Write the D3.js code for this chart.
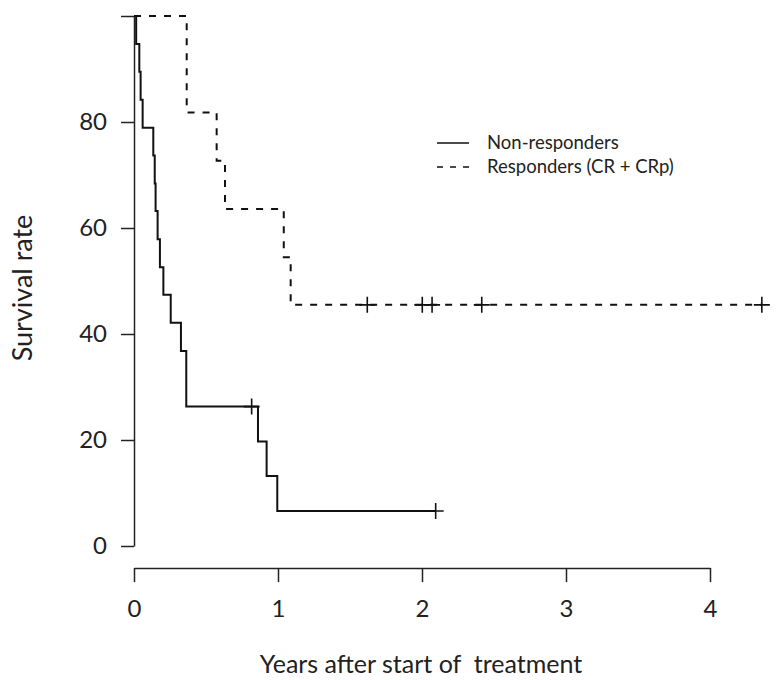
<!DOCTYPE html>
<html>
<head>
<meta charset="utf-8">
<script src="https://cdn.jsdelivr.net/npm/d3@7"></script>
<style>
  body { margin: 0; background: #fff; }
  text { font-family: Lato, "Open Sans", sans-serif; fill: #222; }
</style>
</head>
<body>
<svg width="776" height="680"></svg>
<script>
// Kaplan-Meier: non-responders (solid)
const nrTime = [0, 0.015, 0.037, 0.046, 0.060, 0.134, 0.144, 0.150, 0.164, 0.180, 0.204, 0.255, 0.326, 0.363, 0.861, 0.921, 0.995, 2.095];
const nrSurv = [100, 94.7, 89.5, 84.2, 78.9, 73.7, 68.4, 63.2, 57.9, 52.6, 47.4, 42.1, 36.8, 26.3, 19.7, 13.2, 6.6, 6.6];
const nrCensorTime = [0.817, 2.095];
const nrCensorSurv = [26.3, 6.6];

// responders CR + CRp (dashed)
const rTime = [0, 0.366, 0.574, 0.632, 1.04, 1.088, 4.36];
const rSurv = [100, 81.8, 72.7, 63.6, 54.5, 45.5, 45.5];
const rCensorTime = [1.62, 2.002, 2.07, 2.415, 4.36];
const rCensorSurv = [45.5, 45.5, 45.5, 45.5, 45.5];

const xTicks = [0, 1, 2, 3, 4];
const yTicks = [0, 20, 40, 60, 80, 100];
const yTickLabels = ['0', '20', '40', '60', '80', ''];

const legendLabels = ['Non-responders', 'Responders (CR + CRp)'];

const svg = d3.select('svg');

const x = d3.scaleLinear().domain([0, 4]).range([134, 710]);
const y = d3.scaleLinear().domain([0, 100]).range([546, 16]);

// y axis
const yAxis = d3.axisLeft(y)
    .tickValues(yTicks)
    .tickFormat((d, i) => yTickLabels[i])
    .tickSize(13)
    .tickPadding(14)
    .tickSizeOuter(0);
const gy = svg.append('g').attr('transform', 'translate(134,0)').call(yAxis);
gy.select('.domain').attr('stroke', '#222').attr('stroke-width', 1.5);
gy.selectAll('.tick line').attr('stroke', '#222').attr('stroke-width', 1.5);
gy.selectAll('.tick text').attr('font-size', 24).attr('font-family', 'Lato, sans-serif').attr('fill', '#222');

// x axis
const xAxis = d3.axisBottom(x)
    .tickValues(xTicks)
    .tickFormat(d3.format('d'))
    .tickSize(14)
    .tickPadding(18)
    .tickSizeOuter(0);
const gx = svg.append('g').attr('transform', 'translate(0,568)').call(xAxis);
gx.select('.domain').attr('stroke', '#222').attr('stroke-width', 1.5);
gx.selectAll('.tick line').attr('stroke', '#222').attr('stroke-width', 1.5);
gx.selectAll('.tick text').attr('font-size', 24).attr('font-family', 'Lato, sans-serif').attr('fill', '#222');

// axis titles
svg.append('text')
    .attr('x', 421).attr('y', 673)
    .attr('text-anchor', 'middle')
    .attr('font-size', 25)
    .style('white-space', 'pre')
    .text('Years after start of  treatment');

svg.append('text')
    .attr('transform', 'translate(32,288) rotate(-90)')
    .attr('text-anchor', 'middle')
    .attr('font-size', 27)
    .text('Survival rate');

// curves
const step = d3.line()
    .x(d => x(d[0]))
    .y(d => y(d[1]))
    .curve(d3.curveStepAfter);

svg.append('path')
    .datum(d3.zip(nrTime, nrSurv))
    .attr('d', step)
    .attr('fill', 'none')
    .attr('stroke', '#111')
    .attr('stroke-width', 2);

svg.append('path')
    .datum(d3.zip(rTime, rSurv))
    .attr('d', step)
    .attr('fill', 'none')
    .attr('stroke', '#111')
    .attr('stroke-width', 2)
    .attr('stroke-dasharray', '7,8');

// censor marks
const cross = (g, times, survs) => {
    const pts = d3.zip(times, survs);
    g.selectAll(null).data(pts).enter().append('path')
        .attr('d', d => {
            const cx = x(d[0]), cy = y(d[1]);
            return `M${cx - 8},${cy}H${cx + 8}M${cx},${cy - 8}V${cy + 8}`;
        })
        .attr('stroke', '#111')
        .attr('stroke-width', 1.6)
        .attr('fill', 'none');
};
cross(svg.append('g'), nrCensorTime, nrCensorSurv);
cross(svg.append('g'), rCensorTime, rCensorSurv);

// legend
const legend = svg.append('g').attr('transform', 'translate(437,143)');
legendLabels.forEach((lab, i) => {
    legend.append('line')
        .attr('x1', 0).attr('x2', 32)
        .attr('y1', i * 24).attr('y2', i * 24)
        .attr('stroke', '#111')
        .attr('stroke-width', 1.5)
        .attr('stroke-dasharray', i === 1 ? '6,7' : null);
    legend.append('text')
        .attr('x', 50).attr('y', i * 24 + 6)
        .attr('font-size', 18.5)
        .text(lab);
});
</script>
</body>
</html>
